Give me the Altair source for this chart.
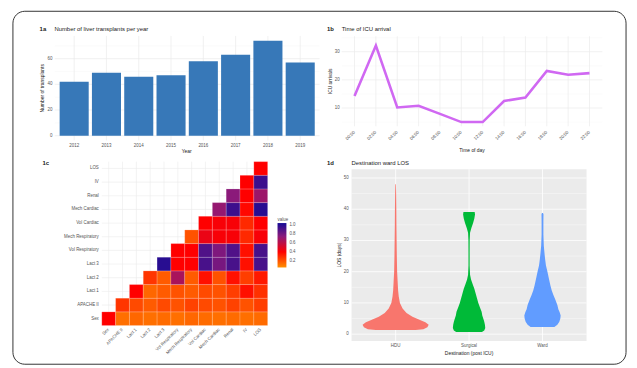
import json
import altair as alt
import pandas as pd

FONT = "Liberation Sans"
TXT = "#1A1A1A"
LAB = "#555555"
OFF = 8  # page margin: screen -> view coordinates


def sx(v):
    return v - OFF


# ---------------- data ----------------
# 1a
years = ["2012", "2013", "2014", "2015", "2016", "2017", "2018", "2019"]
transplants = [42, 49, 46, 47, 58, 63, 74, 57]
bar_ticks = [0, 20, 40, 60]
bar_minor = [10, 30, 50, 70]

# 1b
times = ["00:00", "02:00", "04:00", "06:00", "08:00", "10:00",
         "12:00", "14:00", "16:00", "18:00", "20:00", "22:00"]
arrivals = [14.3, 32.2, 10.2, 10.8, 7.9, 5.0, 5.0, 12.5, 13.7, 23.2, 21.8, 22.4]
line_ticks = [10, 20, 30]
line_minor = [5, 15, 25, 35]

# 1c  (rows bottom -> top, values for columns r..11)
variables = ["Sex", "APACHE II", "Lact 1", "Lact 2", "Lact 3", "Vol Respiratory",
             "Mech Respiratory", "Vol Cardiac", "Mech Cardiac", "Renal", "IV", "LOS"]
heat_rows = [
    [0.40, 0.13, 0.15, 0.13, 0.14, 0.13, 0.15, 0.14, 0.13, 0.14, 0.13, 0.14],
    [0.27, 0.22, 0.18, 0.22, 0.20, 0.24, 0.22, 0.20, 0.24, 0.20, 0.25],
    [0.40, 0.15, 0.18, 0.20, 0.18, 0.22, 0.20, 0.25, 0.36, 0.28],
    [0.27, 0.18, 0.66, 0.18, 0.36, 0.20, 0.36, 0.25, 0.34],
    [1.00, 0.40, 0.40, 0.92, 0.80, 0.92, 0.36, 0.92],
    [0.40, 0.40, 0.90, 0.78, 0.90, 0.36, 0.92],
    [0.20, 0.46, 0.42, 0.42, 0.30, 0.42],
    [0.40, 0.42, 0.42, 0.30, 0.40],
    [0.72, 0.95, 0.38, 1.00],
    [0.75, 0.40, 0.70],
    [0.40, 0.95],
    [0.40],
]
heat_legend_values = [0.2, 0.4, 0.6, 0.8, 1.0]

# 1d  violin outlines: LOS value and relative half-width
destinations = ["HDU", "Surgical", "Ward"]
dest_colors = ["#F8766D", "#00BA38", "#619CFF"]
hdu_los = [1.3, 1.6, 2.2, 3.0, 3.8, 4.6, 5.6, 6.8, 8.2, 10, 12, 14, 17, 20, 25, 30, 35, 40, 45, 48]
hdu_w = [0.60, 0.84, 0.96, 1.0, 0.90, 0.72, 0.51, 0.33, 0.21, 0.13, 0.095, 0.075, 0.06, 0.045,
         0.036, 0.03, 0.024, 0.021, 0.015, 0.009]
surg_los = [0.7, 1.2, 2.0, 3.0, 4.0, 5.0, 6.0, 7.2, 8.5, 10, 11.5, 13, 14.5, 16, 17.5, 19, 22, 26,
            30, 32.5, 34, 35.5, 37, 38.3, 39.1]
surg_w = [0.39, 0.46, 0.49, 0.48, 0.46, 0.43, 0.40, 0.38, 0.33, 0.28, 0.24, 0.20, 0.16, 0.11,
          0.06, 0.03, 0.018, 0.018, 0.02, 0.03, 0.07, 0.12, 0.16, 0.18, 0.17]
ward_los = [2.3, 3, 4, 5, 6, 7, 8, 9.3, 11, 12.5, 14, 15.6, 18, 20, 22, 24, 26, 28.3, 32, 36, 38.4, 38.8]
ward_w = [0.36, 0.45, 0.51, 0.54, 0.55, 0.52, 0.48, 0.45, 0.39, 0.33, 0.28, 0.24, 0.19, 0.15,
          0.105, 0.08, 0.06, 0.04, 0.027, 0.027, 0.03, 0.015]
los_ticks = [0, 10, 20, 30, 40, 50]
los_minor = [5, 15, 25, 35, 45]

one = pd.DataFrame({"k": [0]})
W, H = 629, 360
GRID = "#EBEBEB"
LSIZE = 4.5


def text(txt, x, y, size=6.0, weight="normal", angle=0, align="left", color=TXT):
    return alt.Chart(pd.DataFrame({"t": [txt]})).mark_text(
        align=align, baseline="middle", font=FONT, fontSize=size,
        fontWeight=weight, angle=angle, color=color
    ).encode(x=alt.value(x), y=alt.value(y), text="t:N")


def ylabels(df, field, label, scale, xpos):
    return alt.Chart(df).mark_text(align="right", baseline="middle", font=FONT,
                                   fontSize=LSIZE, color=LAB).encode(
        y=alt.Y(f"{field}:Q", scale=scale, axis=None), x=alt.value(xpos), text=f"{label}:N")


def xlabels(df, field, label, scale, ypos, angle=0):
    if angle:
        mk = alt.Chart(df).mark_text(align="right", baseline="middle", font=FONT,
                                     fontSize=LSIZE, color=LAB, angle=angle)
    else:
        mk = alt.Chart(df).mark_text(align="center", baseline="middle", font=FONT,
                                     fontSize=LSIZE, color=LAB)
    return mk.encode(x=alt.X(f"{field}:Q", scale=scale, axis=None), y=alt.value(ypos),
                     text=f"{label}:N")


def hrules(values, scale, xr, color, width):
    return alt.Chart(pd.DataFrame({"v": values})).mark_rule(color=color, strokeWidth=width).encode(
        y=alt.Y("v:Q", scale=scale, axis=None), x=alt.value(xr[0]), x2=alt.value(xr[1]))


def vrules(values, scale, yr, color, width):
    return alt.Chart(pd.DataFrame({"p": values})).mark_rule(color=color, strokeWidth=width).encode(
        x=alt.X("p:Q", scale=scale, axis=None), y=alt.value(yr[1]), y2=alt.value(yr[0]))


# ---------------- panel 1a ----------------
A_X = [sx(55.4), sx(323.6)]
A_Y = [sx(139.8), sx(34)]
a_x = alt.Scale(domain=[0.4, 8.6], range=A_X, nice=False, zero=False)
a_y = alt.Scale(domain=[-3.7, 77.7], range=A_Y, nice=False, zero=False)
a_df = pd.DataFrame({"idx": list(range(1, 9)), "year": years, "n": transplants})
a_tick_df = pd.DataFrame({"v": bar_ticks, "lab": [str(v) for v in bar_ticks]})

a_bars = alt.Chart(a_df).transform_calculate(
    x1="datum.idx - 0.45", x2="datum.idx + 0.45"
).mark_rect(color="#3778B8").encode(
    x=alt.X("x1:Q", scale=a_x, axis=None),
    x2="x2:Q",
    y=alt.Y("n:Q", scale=a_y, axis=None),
    y2=alt.datum(0),
)
panel_a = alt.layer(
    hrules(bar_minor, a_y, A_X, "#F4F4F4", 0.4),
    hrules(bar_ticks, a_y, A_X, GRID, 0.7),
    vrules(list(range(1, 9)), a_x, A_Y, GRID, 0.7),
    a_bars,
    ylabels(a_tick_df, "v", "lab", a_y, sx(53)),
    xlabels(a_df, "idx", "year", a_x, sx(145)),
)

# ---------------- panel 1b ----------------
B_X = [sx(346), sx(610)]
B_Y = [sx(125.5), sx(34.3)]
b_x = alt.Scale(domain=[0.4, 12.6], range=B_X, nice=False, zero=False)
b_y = alt.Scale(domain=[3.5, 35.5], range=B_Y, nice=False, zero=False)
b_df = pd.DataFrame({"idx": list(range(1, 13)), "time": times, "n": arrivals})
b_tick_df = pd.DataFrame({"v": line_ticks, "lab": [str(v) for v in line_ticks]})

b_line = alt.Chart(b_df).mark_line(color="#D068F2", strokeWidth=2.6).encode(
    x=alt.X("idx:Q", scale=b_x, axis=None),
    y=alt.Y("n:Q", scale=b_y, axis=None),
)
panel_b = alt.layer(
    hrules(line_minor, b_y, B_X, "#F4F4F4", 0.4),
    hrules(line_ticks, b_y, B_X, GRID, 0.7),
    vrules(list(range(1, 13)), b_x, B_Y, GRID, 0.7),
    b_line,
    ylabels(b_tick_df, "v", "lab", b_y, sx(344)),
    xlabels(b_df, "idx", "time", b_x, sx(131), angle=315),
)

# ---------------- panel 1c ----------------
C_X = [sx(103), sx(271)]
C_Y = [sx(327.3), sx(161.3)]
c_x = alt.Scale(domain=[0, 12], range=C_X, nice=False, zero=False)
c_y = alt.Scale(domain=[0, 12], range=C_Y, nice=False, zero=False)
cells = []
for r, vals in enumerate(heat_rows):
    for k, v in enumerate(vals):
        c = r + k
        cells.append({"c0": c, "c1": c + 1, "r0": r, "r1": r + 1, "v": v})
c_df = pd.DataFrame(cells)
c_lab_df = pd.DataFrame({"p": [i + 0.5 for i in range(12)], "name": variables})

c_cells = alt.Chart(c_df).mark_rect(stroke="#FFFFFF", strokeWidth=0.3, strokeOpacity=0.6).encode(
    x=alt.X("c0:Q", scale=c_x, axis=None),
    x2="c1:Q",
    y=alt.Y("r0:Q", scale=c_y, axis=None),
    y2="r1:Q",
    color=alt.Color("v:Q",
                    scale=alt.Scale(domain=[0.05, 0.4, 0.75, 1.05],
                                    range=["#FF9000", "#FF0000", "#8B1A7A", "#140A96"],
                                    interpolate="rgb"),
                    legend=alt.Legend(orient="none", legendX=sx(281), legendY=sx(217),
                                      direction="vertical", gradientLength=45,
                                      gradientThickness=9, gradientStrokeWidth=0,
                                      title="value", titleFont=FONT, titleFontSize=4.5,
                                      titleColor=LAB, titleFontWeight="normal", titlePadding=2,
                                      labelFont=FONT, labelFontSize=4.5, labelColor=LAB,
                                      labelOffset=3, values=heat_legend_values, format=".1f")),
)
panel_c = alt.layer(
    vrules([i + 0.5 for i in range(12)], c_x, C_Y, GRID, 0.6),
    hrules([i + 0.5 for i in range(12)], c_y, C_X, GRID, 0.6),
    c_cells,
    ylabels(c_lab_df, "p", "name", c_y, sx(100)),
    xlabels(c_lab_df, "p", "name", c_x, sx(331), angle=315),
)

# ---------------- panel 1d ----------------
D_X = [sx(356), sx(594)]
D_Y = [sx(343), sx(169)]
d_x = alt.Scale(domain=[0.4, 3.6], range=D_X, nice=False, zero=False)
d_y = alt.Scale(domain=[-2.2, 52.8], range=D_Y, nice=False, zero=False)

vrows = []
for i, (los, w) in enumerate([(hdu_los, hdu_w), (surg_los, surg_w), (ward_los, ward_w)]):
    for a, b in zip(los, w):
        vrows.append({"dest": destinations[i], "pos": i + 1, "los": a, "w": b})
d_df = pd.DataFrame(vrows)
d_tick_df = pd.DataFrame({"v": los_ticks, "lab": [str(v) for v in los_ticks]})
d_lab_df = pd.DataFrame({"p": [1, 2, 3], "name": destinations})

d_bg = alt.Chart(one).mark_rect(color="#EBEBEB").encode(
    x=alt.value(D_X[0]), x2=alt.value(D_X[1]), y=alt.value(D_Y[1]), y2=alt.value(D_Y[0]))
d_violin = alt.Chart(d_df).transform_calculate(
    lo="datum.pos - datum.w * 0.45", hi="datum.pos + datum.w * 0.45"
).mark_area(orient="horizontal").encode(
    y=alt.Y("los:Q", scale=d_y, axis=None),
    x=alt.X("lo:Q", scale=d_x, axis=None),
    x2="hi:Q",
    color=alt.Color("dest:N", scale=alt.Scale(domain=destinations, range=dest_colors), legend=None),
)
panel_d = alt.layer(
    d_bg,
    hrules(los_minor, d_y, D_X, "white", 0.4),
    hrules(los_ticks, d_y, D_X, "white", 0.8),
    vrules([1, 2, 3], d_x, D_Y, "white", 0.8),
    d_violin,
    ylabels(d_tick_df, "v", "lab", d_y, sx(353)),
    xlabels(d_lab_df, "p", "name", d_x, sx(348)),
)

# ---------------- titles & frame ----------------
titles = [
    text("1a", sx(40), sx(27), size=6, weight="bold"),
    text("Number of liver transplants per year", sx(55), sx(27), size=6),
    text("Number of transplants", sx(42), sx(87), size=5, angle=270, align="center"),
    text("Year", sx(189), sx(151), size=5, align="center"),
    text("1b", sx(331), sx(27), size=6, weight="bold"),
    text("Time of ICU arrival", sx(346), sx(27), size=6),
    text("ICU arrivals", sx(334), sx(80), size=5, angle=270, align="center"),
    text("Time of day", sx(478), sx(150), size=5, align="center"),
    text("1c", sx(43), sx(163), size=6, weight="bold"),
    text("1d", sx(331), sx(163), size=6, weight="bold"),
    text("Destination ward LOS", sx(356), sx(163), size=6),
    text("LOS (days)", sx(343), sx(256), size=5, angle=270, align="center"),
    text("Destination (post ICU)", sx(475), sx(355), size=5, align="center"),
]

frame = alt.Chart(one).mark_rect(fillOpacity=0, stroke="#333333", strokeWidth=1,
                                 cornerRadius=12).encode(
    x=alt.value(sx(13)), x2=alt.value(sx(634)), y=alt.value(sx(9)), y2=alt.value(sx(366.5)))

chart = alt.layer(panel_a, panel_b, panel_c, panel_d, *titles, frame).resolve_scale(
    x="independent", y="independent", color="independent"
).properties(
    width=W, height=H, padding=0, background="white",
    autosize=alt.AutoSizeParams(type="none"),
).configure_view(strokeWidth=0)

chart.save("out.html", embed_options={"renderer": "svg", "actions": False})
